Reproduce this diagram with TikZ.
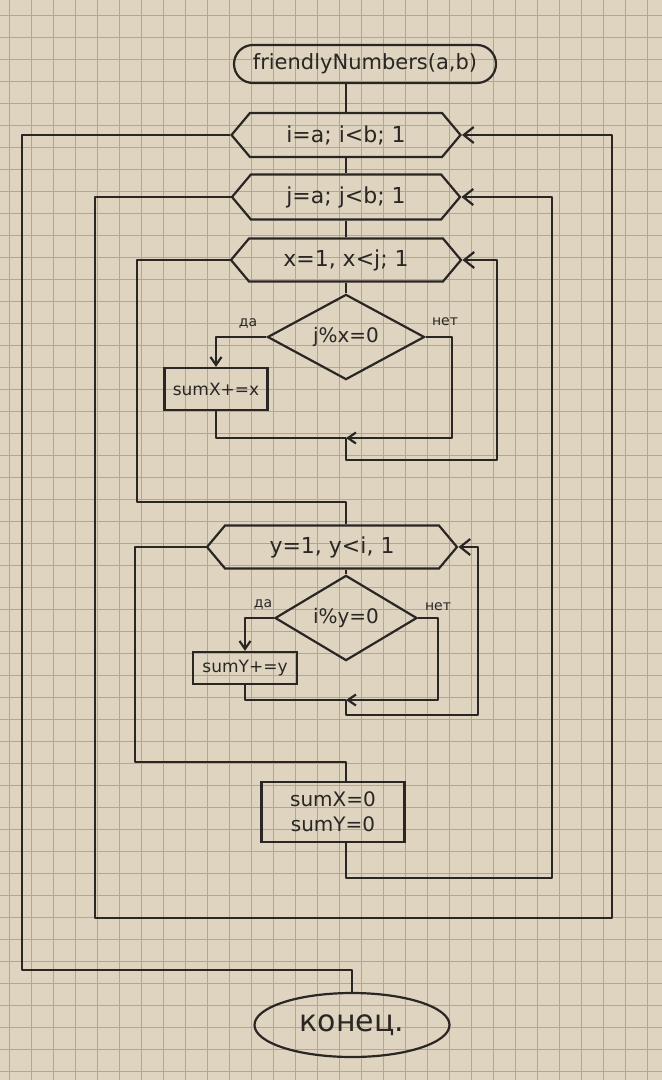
\documentclass[tikz,border=0pt]{standalone}
\usepackage{fontspec}
\setmainfont{DejaVu Sans}
\usetikzlibrary{shapes.geometric,shapes.symbols,shapes.misc,arrows.meta}

\definecolor{paper}{RGB}{222,212,192}
\definecolor{gridline}{RGB}{180,160,180}
\definecolor{ink}{RGB}{42,38,36}

\tikzset{
  flow/.style={draw=ink, line width=1.1pt, text=ink, inner sep=0pt},
  loopbox/.style={flow, signal, signal to=west and east, signal pointer angle=100,
    font=\fontsize{11}{13}\selectfont},
  cond/.style={flow, diamond, font=\fontsize{10}{12}\selectfont},
  proc/.style={flow, rectangle, font=\fontsize{8.5}{10}\selectfont},
  term/.style={flow, font=\fontsize{10.5}{12}\selectfont},
  wire/.style={draw=ink, line width=1.1pt, line join=round},
  fwd/.style={wire, -{Straight Barb[length=4pt,width=5.5pt]}},
  back/.style={wire, -{Straight Barb[length=5pt,width=8pt]}},
  lbl/.style={text=ink, inner sep=0pt, font=\fontsize{7}{8}\selectfont},
  paperline/.style={draw=gridline, line width=0.45pt},
}

\begin{document}
\begin{tikzpicture}[x=0.5pt,y=-0.5pt]
  % sheet of squared paper
  \fill[paper] (0,0) rectangle (662,1080);
  \useasboundingbox (0,0) rectangle (662,1080);
  \foreach \gx in {9,31,...,661} \draw[paperline] (\gx,0) -- (\gx,1080);
  \foreach \gy in {15,37,...,1079} \draw[paperline] (0,\gy) -- (662,\gy);

  % main column
  \coordinate (col) at (346,0);

  % blocks
  \node[term, rounded rectangle, minimum width=131pt, minimum height=19pt]
    (start) at (365,64) {friendlyNumbers(a,b)};
  \node[loopbox, minimum width=114.5pt, minimum height=22pt]
    (hex1) at (346,135) {i=a; i<b; 1};
  \node[loopbox, minimum width=114pt, minimum height=22.5pt]
    (hex2) at (346,197) {j=a; j<b; 1};
  \node[loopbox, minimum width=115pt, minimum height=21.5pt]
    (hex3) at (346,260) {x=1, x<j; 1};
  \node[cond, minimum width=78.5pt, minimum height=34.5pt]
    (dia1) at (346,337) {j\%x=0};
  \node[proc, minimum width=51.5pt, minimum height=21pt]
    (sum1) at (216,389) {sumX+=x};
  \node[loopbox, minimum width=125pt, minimum height=21.5pt]
    (hex4) at (332,547) {y=1, y<i, 1};
  \node[cond, minimum width=71pt, minimum height=29pt]
    (dia2) at (346,618) {i\%y=0};
  \node[proc, minimum width=52pt, minimum height=16pt]
    (sum2) at (245,668) {sumY+=y};
  \node[proc, minimum width=71.5pt, minimum height=30pt, align=center,
    font=\fontsize{10}{12.5}\selectfont]
    (zero) at (333,812) {sumX=0\\sumY=0};
  \node[term, ellipse, minimum width=97.5pt, minimum height=32pt,
    font=\fontsize{15}{17}\selectfont]
    (stop) at (352,1025) {конец.};

  % branch labels
  \node[lbl] (yes1) at (248,324) {да};
  \node[lbl] (no1) at (445,322) {нет};
  \node[lbl] (yes2) at (263,605) {да};
  \node[lbl] (no2) at (438,607) {нет};

  % merge points
  \coordinate (m1) at (346,438);
  \coordinate (m2) at (346,700);
  \coordinate (m3) at (346,502);

  % straight flow
  \draw[wire] (hex1.north |- start.south) -- (hex1.north);
  \draw[wire] (hex1.south) -- (hex2.north);
  \draw[wire] (hex2.south) -- (hex3.north);
  \draw[wire] (hex3.south) -- (dia1.north);
  \draw[wire] (col |- hex4.south) -- (dia2.north);

  % inner loop over x
  \draw[fwd] (dia1.west) -| (sum1.north);
  \draw[fwd] (dia1.east) -| (452,438) -- (m1);
  \draw[wire] (sum1.south) |- (m1);
  \draw[back] (m1) |- (497,460) |- (hex3.east);
  \draw[wire] (hex3.west) -| (137,502) -- (m3) -- (m3 |- hex4.north);

  % inner loop over y
  \draw[fwd] (dia2.west) -| (sum2.north);
  \draw[fwd] (dia2.east) -| (438,700) -- (m2);
  \draw[wire] (sum2.south) |- (m2);
  \draw[back] (m2) |- (478,715) |- (hex4.east);
  \draw[wire] (hex4.west) -| (135,762) -| (col |- zero.north);

  % loop over j
  \draw[back] (col |- zero.south) |- (552,878) |- (hex2.east);

  % loop over i
  \draw[back] (hex2.west) -| (95,918) -- (612,918) |- (hex1.east);
  \draw[wire] (hex1.west) -| (22,970) -| (stop.north);
\end{tikzpicture}
\end{document}
